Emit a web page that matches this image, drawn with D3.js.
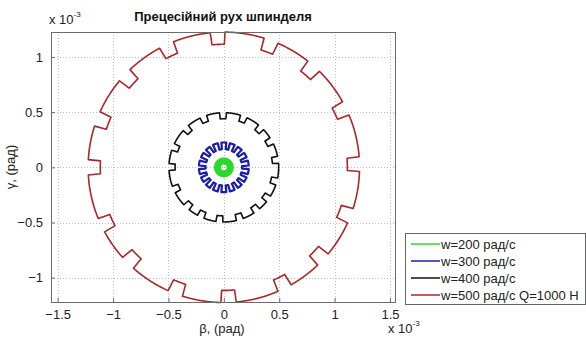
<!DOCTYPE html>
<html>
<head>
<meta charset="utf-8">
<script src="https://cdn.jsdelivr.net/npm/d3@7"></script>
<style>
  body { margin: 0; background: #fff; }
  svg { font-family: "Liberation Sans", Arial, sans-serif; }
</style>
</head>
<body>
<script>
// values are in units of 1e-3 rad
const seriesNames = ["w=200 рад/с", "w=300 рад/с", "w=400 рад/с", "w=500 рад/с Q=1000 Н"];
const seriesColors = ["#2bd92b", "#1c1ca8", "#111111", "#a8282a"];
const radii = [0.058, 0.225, 0.495, 1.225];
const notchDepths = [0, 0.06, 0.055, 0.11];
const notchWidths = [0, 8, 7, 6];        // degrees
const notchAngles = [
  [],
  [0, 20, 40, 60, 80, 100, 120, 140, 160, 180, 200, 220, 240, 260, 280, 300, 320, 340],
  [90.8, 68.7, 47.2, 29, 8, -15, -35.4, -53, -73, -94.6, -115, -133, -156, 179.6, 158, 134, 112],
  [92.6, 69.7, 48.5, 25.8, 1.4, -21, -43, -63.4, -88, -111, -135, -154.6, 180, 159, 137, 115]
];
const xTicks = [-1.5, -1, -0.5, 0, 0.5, 1, 1.5];
const yTicks = [-1, -0.5, 0, 0.5, 1];

const width = 586, height = 338;
const box = { left: 51, right: 395, top: 32, bottom: 302 };
const fs = 13;

const svg = d3.select("body").append("svg")
  .attr("width", width)
  .attr("height", height);

const x = d3.scaleLinear().domain([-1.56, 1.545]).range([box.left, box.right]);
const y = d3.scaleLinear().domain([-1.22, 1.226]).range([box.bottom, box.top]);

// grid
const grid = svg.append("g").attr("class", "grid")
  .attr("stroke", "#bdbdbd").attr("stroke-dasharray", "1,2").attr("stroke-width", 1);
grid.selectAll("line.gx").data(xTicks).join("line")
  .attr("x1", d => Math.round(x(d)) + 0.5).attr("x2", d => Math.round(x(d)) + 0.5)
  .attr("y1", box.top).attr("y2", box.bottom);
grid.selectAll("line.gy").data(yTicks).join("line")
  .attr("y1", d => Math.round(y(d)) + 0.5).attr("y2", d => Math.round(y(d)) + 0.5)
  .attr("x1", box.left).attr("x2", box.right);

// curves
function outline(i) {
  const pts = [];
  const half = notchWidths[i] / 2;
  for (let k = 0; k <= 1440; k++) {
    const a = k / 4;
    const inNotch = notchAngles[i].some(c => {
      let d = Math.abs(((a - c) % 360 + 540) % 360 - 180);
      return d <= half;
    });
    const r = inNotch ? radii[i] - notchDepths[i] : radii[i];
    const t = a * Math.PI / 180;
    pts.push([r * Math.cos(t), r * Math.sin(t)]);
  }
  return pts;
}

const line = d3.line().x(d => x(d[0])).y(d => y(d[1]));
const plot = svg.append("g").attr("class", "curves");
seriesNames.forEach((name, i) => {
  plot.append("path")
    .attr("d", line(outline(i)))
    .attr("fill", "none")
    .attr("stroke", seriesColors[i])
    .attr("stroke-width", i === 0 ? 7 : (i === 1 ? 2.2 : 1.6))
    .attr("stroke-linejoin", "round");
});

// axes box and ticks (inside, matlab style)
svg.append("rect")
  .attr("x", box.left + 0.5).attr("y", box.top + 0.5)
  .attr("width", box.right - box.left).attr("height", box.bottom - box.top)
  .attr("fill", "none").attr("stroke", "#6b6b6b");

const xAxis = d3.axisBottom(x).tickValues(xTicks).tickSizeInner(-4).tickSizeOuter(0)
  .tickPadding(8).tickFormat(d3.format("~g"));
const gx = svg.append("g").attr("transform", `translate(0,${box.bottom})`).call(xAxis);
gx.select(".domain").remove();
gx.selectAll("line").attr("stroke", "#6b6b6b");
gx.selectAll("text").attr("font-size", fs).attr("fill", "#222");

const yAxis = d3.axisLeft(y).tickValues(yTicks).tickSizeInner(-4).tickSizeOuter(0)
  .tickPadding(8).tickFormat(d3.format("~g"));
const gy = svg.append("g").attr("transform", `translate(${box.left},0)`).call(yAxis);
gy.select(".domain").remove();
gy.selectAll("line").attr("stroke", "#6b6b6b");
gy.selectAll("text").attr("font-size", fs).attr("fill", "#222");

// exponent labels
function expLabel(px, py) {
  const t = svg.append("text").attr("x", px).attr("y", py).attr("font-size", fs).attr("fill", "#222");
  t.append("tspan").text("x 10");
  t.append("tspan").attr("dy", -7).attr("font-size", 8).text("-3");
}
expLabel(49, 24);
expLabel(388, 333);

// title and axis labels
svg.append("text").attr("x", 223).attr("y", 21).attr("text-anchor", "middle")
  .attr("font-size", fs).attr("font-weight", "bold").attr("fill", "#111")
  .text("Прецесійний рух шпинделя");
svg.append("text").attr("x", 222).attr("y", 333).attr("text-anchor", "middle")
  .attr("font-size", fs).attr("fill", "#222").text("β, (рад)");
svg.append("text").attr("transform", "translate(15,167) rotate(-90)").attr("text-anchor", "middle")
  .attr("font-size", fs).attr("fill", "#222").text("γ, (рад)");

// legend
const legend = svg.append("g").attr("transform", "translate(405,233)");
legend.append("rect").attr("x", 0.5).attr("y", 0.5).attr("width", 180).attr("height", 71)
  .attr("fill", "#fff").attr("stroke", "#666");
seriesNames.forEach((name, i) => {
  const ly = 11 + i * 17;
  legend.append("line").attr("x1", 6).attr("x2", 35).attr("y1", ly).attr("y2", ly)
    .attr("stroke", seriesColors[i]).attr("stroke-width", 1.5);
  legend.append("text").attr("x", 36).attr("y", ly + 5)
    .attr("font-size", fs).attr("fill", "#222").text(name);
});
</script>
</body>
</html>
